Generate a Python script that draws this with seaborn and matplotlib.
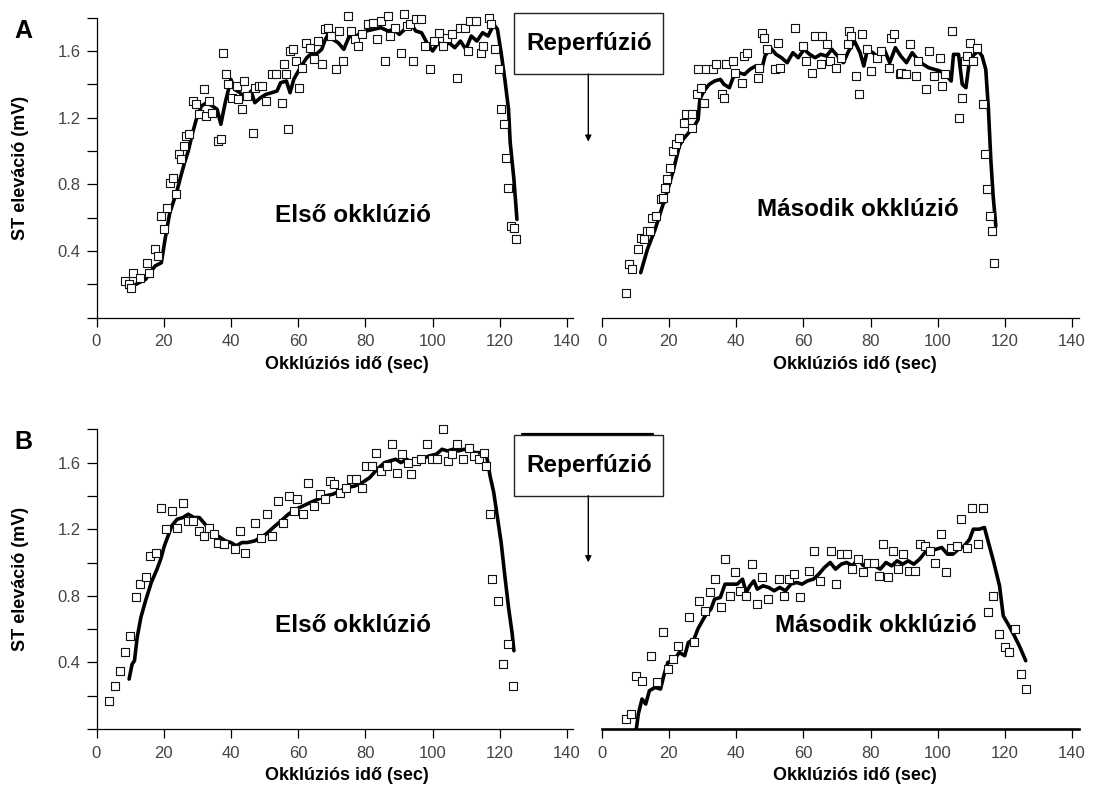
import matplotlib
matplotlib.use("Agg")
import matplotlib.pyplot as plt
from matplotlib.patches import Rectangle, FancyArrowPatch
from matplotlib.lines import Line2D
from matplotlib.ticker import FixedLocator, NullFormatter
import seaborn as sns

sns.set_theme(style="ticks")
plt.rcParams["font.family"] = ["Liberation Sans", "DejaVu Sans"]
plt.rcParams["text.color"] = "black"
plt.rcParams["axes.labelcolor"] = "black"

# ---------------- data: ST elevation (mV) vs occlusion time (s) ----------------
# A, first occlusion: smoothed curve
a1_curve_t = [11.7, 14.6, 17.4, 19.3, 20.4, 21.8, 23.8, 25.1, 26.2, 27.3,
              28.6, 29.7, 31.2, 32.8, 34.5, 35.9, 37.0, 38.3, 40.0, 41.1,
              42.7, 44.4, 46.0, 47.1, 48.8, 50.4, 52.1, 53.7, 54.8, 56.5,
              57.6, 58.7, 59.8, 60.9, 62.6, 64.2, 65.3, 67.0, 68.1, 69.2,
              70.3, 71.9, 73.6, 75.2, 76.9, 78.5, 80.2, 82.4, 84.6, 86.8,
              88.4, 90.1, 91.7, 93.4, 95.0, 96.7, 98.3, 100.0, 101.7, 103.3,
              104.9, 106.6, 108.3, 109.9, 111.5, 113.2, 114.9, 116.5, 118.2, 119.3,
              120.4, 121.5, 122.6, 123.1, 124.2, 125.1]
a1_curve_st = [0.20, 0.23, 0.31, 0.33, 0.47, 0.63, 0.75, 0.85, 0.93, 1.00,
               1.11, 1.19, 1.27, 1.29, 1.27, 1.25, 1.16, 1.29, 1.43, 1.37,
               1.35, 1.31, 1.36, 1.29, 1.32, 1.34, 1.35, 1.36, 1.41, 1.42,
               1.35, 1.43, 1.47, 1.51, 1.56, 1.59, 1.58, 1.61, 1.67, 1.71,
               1.67, 1.65, 1.61, 1.69, 1.68, 1.71, 1.72, 1.73, 1.74, 1.72,
               1.73, 1.70, 1.73, 1.77, 1.72, 1.71, 1.65, 1.60, 1.65, 1.63,
               1.65, 1.62, 1.66, 1.61, 1.69, 1.66, 1.71, 1.69, 1.76, 1.73,
               1.59, 1.43, 1.25, 1.05, 0.83, 0.59]
# A, first occlusion: single beats
a1_beat_t = [8.6, 9.7, 10.2, 11.0, 12.8, 15.0, 15.7, 17.4, 18.2, 19.3,
             20.2, 20.9, 21.8, 22.9, 23.6, 24.4, 25.1, 26.0, 26.6, 27.6,
             28.6, 29.5, 30.6, 31.9, 32.5, 33.4, 34.5, 36.2, 37.0, 37.6,
             38.4, 39.2, 40.4, 41.8, 42.2, 43.3, 43.9, 44.8, 46.6, 47.2,
             48.3, 49.2, 50.5, 52.1, 53.3, 55.1, 55.8, 56.5, 57.1, 57.6,
             58.5, 59.3, 60.4, 61.2, 62.4, 63.4, 64.8, 65.9, 67.0, 67.9,
             69.0, 69.8, 71.2, 72.3, 73.4, 74.9, 75.6, 76.9, 77.8, 79.1,
             80.8, 82.2, 83.5, 84.6, 85.7, 86.6, 87.4, 88.8, 90.7, 91.4,
             92.3, 93.4, 94.3, 95.0, 96.7, 97.6, 99.2, 100.5, 102.0, 103.1,
             104.4, 105.7, 107.4, 108.3, 109.7, 110.5, 111.0, 112.9, 114.3, 115.0,
             116.8, 117.3, 118.7, 119.8, 120.4, 121.2, 121.8, 122.4, 123.4, 124.1,
             124.8]
a1_beat_st = [0.22, 0.20, 0.18, 0.27, 0.24, 0.33, 0.27, 0.41, 0.37, 0.61,
              0.53, 0.66, 0.81, 0.84, 0.74, 0.98, 0.95, 1.03, 1.09, 1.10,
              1.30, 1.28, 1.22, 1.37, 1.21, 1.30, 1.23, 1.06, 1.07, 1.59,
              1.46, 1.40, 1.32, 1.39, 1.31, 1.25, 1.42, 1.33, 1.11, 1.38,
              1.39, 1.39, 1.30, 1.46, 1.46, 1.29, 1.52, 1.46, 1.13, 1.60,
              1.61, 1.54, 1.38, 1.50, 1.65, 1.62, 1.55, 1.66, 1.52, 1.73,
              1.74, 1.69, 1.49, 1.72, 1.54, 1.81, 1.72, 1.67, 1.63, 1.70,
              1.76, 1.77, 1.67, 1.78, 1.54, 1.81, 1.69, 1.74, 1.59, 1.82,
              1.75, 1.76, 1.54, 1.79, 1.79, 1.63, 1.49, 1.66, 1.71, 1.63,
              1.68, 1.70, 1.44, 1.74, 1.74, 1.60, 1.78, 1.78, 1.59, 1.63,
              1.80, 1.76, 1.61, 1.49, 1.25, 1.16, 0.96, 0.78, 0.55, 0.54,
              0.47]

# A, second occlusion
a2_curve_t = [11.6, 13.6, 15.9, 18.1, 19.7, 21.4, 23.1, 24.2, 25.9, 27.6,
              28.7, 29.2, 30.4, 32.0, 33.6, 35.3, 36.4, 38.0, 39.1, 40.8,
              42.5, 44.1, 45.8, 47.5, 48.6, 50.2, 51.9, 53.5, 55.2, 56.9,
              58.5, 60.2, 61.9, 63.5, 65.2, 66.9, 68.5, 70.2, 71.9, 73.5,
              75.2, 76.9, 78.0, 79.1, 80.7, 82.4, 84.1, 85.7, 87.4, 89.0,
              90.7, 92.4, 94.0, 95.7, 97.3, 99.0, 100.7, 102.3, 104.0, 104.7,
              106.2, 107.3, 108.4, 109.5, 110.9, 112.1, 113.2, 114.3, 115.1, 115.8,
              116.5, 117.3]
a2_curve_st = [0.27, 0.41, 0.53, 0.67, 0.77, 0.89, 1.03, 1.07, 1.11, 1.15,
               1.19, 1.31, 1.36, 1.40, 1.42, 1.43, 1.40, 1.38, 1.44, 1.47,
               1.46, 1.49, 1.51, 1.48, 1.57, 1.62, 1.58, 1.56, 1.53, 1.59,
               1.56, 1.61, 1.58, 1.56, 1.58, 1.57, 1.61, 1.57, 1.53, 1.60,
               1.66, 1.59, 1.51, 1.61, 1.59, 1.56, 1.61, 1.53, 1.62, 1.57,
               1.53, 1.59, 1.55, 1.52, 1.50, 1.49, 1.48, 1.46, 1.42, 1.58,
               1.58, 1.40, 1.38, 1.55, 1.58, 1.60, 1.57, 1.49, 1.25, 0.95,
               0.73, 0.55]
a2_beat_t = [7.2, 8.1, 9.0, 10.9, 11.6, 12.5, 13.4, 14.5, 15.1, 16.2,
             17.5, 18.1, 18.7, 19.5, 20.3, 21.1, 22.2, 23.1, 24.5, 25.1,
             27.0, 27.0, 28.4, 28.8, 29.7, 30.3, 31.0, 33.0, 34.1, 35.7,
             36.3, 36.9, 39.1, 39.7, 41.9, 42.3, 43.2, 46.4, 46.9, 47.8,
             48.3, 49.1, 51.5, 52.4, 53.0, 57.6, 60.0, 60.8, 62.6, 63.5,
             65.2, 65.7, 67.2, 68.0, 69.6, 71.1, 73.2, 73.5, 74.3, 75.7,
             76.5, 77.6, 79.1, 80.2, 81.9, 83.0, 85.5, 86.0, 86.9, 88.8,
             89.1, 90.7, 91.8, 93.5, 94.0, 96.5, 97.3, 98.8, 100.7, 101.2,
             102.3, 104.3, 106.2, 107.3, 108.1, 108.6, 109.7, 110.6, 111.7, 113.4,
             114.2, 114.8, 115.6, 116.3, 116.9]
a2_beat_st = [0.15, 0.32, 0.29, 0.41, 0.48, 0.47, 0.52, 0.52, 0.60, 0.61,
              0.71, 0.72, 0.78, 0.83, 0.90, 1.00, 1.04, 1.08, 1.17, 1.22,
              1.22, 1.14, 1.34, 1.49, 1.38, 1.29, 1.49, 1.49, 1.52, 1.34,
              1.32, 1.52, 1.54, 1.47, 1.41, 1.57, 1.59, 1.44, 1.50, 1.71,
              1.68, 1.61, 1.49, 1.65, 1.50, 1.74, 1.63, 1.54, 1.47, 1.69,
              1.52, 1.69, 1.64, 1.54, 1.50, 1.56, 1.64, 1.72, 1.69, 1.45,
              1.34, 1.70, 1.61, 1.48, 1.56, 1.60, 1.50, 1.68, 1.70, 1.46,
              1.47, 1.46, 1.64, 1.45, 1.54, 1.37, 1.60, 1.45, 1.56, 1.39,
              1.46, 1.72, 1.20, 1.32, 1.54, 1.57, 1.65, 1.54, 1.62, 1.28,
              0.98, 0.77, 0.61, 0.52, 0.33]

# B, first occlusion
b1_curve_t = [9.7, 10.6, 11.3, 12.1, 13.2, 14.6, 16.3, 18.0, 19.1, 20.2,
              21.3, 22.4, 24.0, 25.7, 27.3, 29.0, 30.6, 32.3, 33.9, 36.1,
              38.3, 40.0, 41.6, 43.3, 44.9, 47.1, 48.8, 50.4, 52.6, 54.9,
              57.1, 59.3, 61.5, 63.6, 65.9, 68.1, 70.3, 72.5, 74.7, 76.9,
              79.1, 81.3, 83.5, 85.7, 87.3, 89.0, 90.6, 92.3, 94.5, 96.7,
              98.9, 101.1, 102.8, 104.4, 106.1, 107.7, 109.4, 111.0, 112.7, 114.3,
              116.0, 117.1, 118.2, 119.3, 120.4, 121.5, 122.6, 123.7, 124.2]
b1_curve_st = [0.30, 0.39, 0.41, 0.55, 0.67, 0.77, 0.88, 0.96, 1.02, 1.10,
               1.16, 1.22, 1.26, 1.27, 1.29, 1.27, 1.27, 1.23, 1.19, 1.16,
               1.13, 1.12, 1.10, 1.12, 1.12, 1.13, 1.15, 1.17, 1.21, 1.25,
               1.29, 1.32, 1.34, 1.36, 1.38, 1.40, 1.41, 1.43, 1.45, 1.46,
               1.48, 1.51, 1.56, 1.60, 1.61, 1.62, 1.60, 1.62, 1.59, 1.62,
               1.64, 1.65, 1.68, 1.67, 1.68, 1.67, 1.68, 1.67, 1.66, 1.66,
               1.65, 1.52, 1.42, 1.27, 1.12, 0.92, 0.73, 0.57, 0.47]
b1_beat_t = [3.7, 5.4, 7.0, 8.6, 10.1, 11.7, 13.0, 14.6, 16.0, 17.6,
             19.3, 20.8, 22.5, 24.1, 25.7, 27.1, 28.7, 30.4, 31.9, 33.6,
             35.0, 36.3, 37.9, 41.1, 42.7, 44.2, 47.3, 48.9, 50.7, 52.3,
             53.9, 55.6, 57.3, 58.7, 59.8, 61.5, 62.9, 64.8, 66.4, 68.1,
             69.4, 70.8, 72.5, 74.1, 75.6, 77.2, 78.9, 80.3, 82.0, 83.3,
             84.8, 86.5, 88.0, 89.5, 91.0, 92.7, 93.5, 95.0, 96.7, 98.2,
             99.8, 101.4, 103.0, 104.6, 105.8, 107.4, 109.0, 110.7, 112.2, 113.9,
             115.4, 115.9, 117.1, 117.6, 119.5, 120.9, 122.5, 123.9]
b1_beat_st = [0.17, 0.26, 0.35, 0.46, 0.56, 0.79, 0.87, 0.91, 1.04, 1.06,
              1.33, 1.20, 1.31, 1.21, 1.36, 1.25, 1.25, 1.19, 1.16, 1.21,
              1.17, 1.12, 1.11, 1.08, 1.19, 1.06, 1.24, 1.15, 1.29, 1.16,
              1.37, 1.24, 1.40, 1.31, 1.38, 1.29, 1.48, 1.34, 1.41, 1.38,
              1.49, 1.47, 1.42, 1.45, 1.50, 1.50, 1.45, 1.58, 1.58, 1.66,
              1.55, 1.58, 1.71, 1.54, 1.65, 1.60, 1.53, 1.61, 1.62, 1.71,
              1.62, 1.62, 1.80, 1.61, 1.65, 1.71, 1.62, 1.69, 1.64, 1.62,
              1.66, 1.58, 1.29, 0.90, 0.77, 0.39, 0.51, 0.26]

# B, second occlusion
b2_curve_t = [10.3, 10.9, 12.0, 13.1, 14.2, 15.9, 17.5, 18.6, 19.7, 21.4,
              23.1, 24.7, 25.8, 27.5, 28.6, 29.7, 30.8, 32.5, 33.6, 35.3,
              36.7, 38.6, 40.3, 41.9, 43.0, 44.1, 45.3, 46.3, 48.0, 49.7,
              51.3, 53.0, 54.7, 56.3, 58.0, 59.6, 61.3, 63.0, 64.6, 66.3,
              68.0, 69.6, 71.3, 72.9, 74.6, 76.3, 77.9, 79.6, 81.3, 82.9,
              84.6, 86.3, 87.9, 89.6, 91.2, 92.9, 94.6, 96.2, 97.9, 99.6,
              101.2, 102.9, 104.5, 106.2, 107.9, 109.5, 110.6, 112.3, 113.9, 115.1,
              116.7, 118.4, 119.5, 121.2, 122.8, 124.5, 126.2]
b2_curve_st = [0.00, 0.09, 0.18, 0.15, 0.23, 0.25, 0.24, 0.33, 0.40, 0.41,
               0.46, 0.44, 0.52, 0.54, 0.60, 0.64, 0.68, 0.72, 0.78, 0.79,
               0.87, 0.87, 0.87, 0.90, 0.82, 0.86, 0.89, 0.84, 0.86, 0.85,
               0.83, 0.85, 0.83, 0.87, 0.88, 0.87, 0.89, 0.90, 0.93, 0.97,
               1.00, 0.96, 0.99, 1.00, 0.98, 1.02, 0.98, 1.00, 0.98, 0.96,
               1.00, 0.98, 1.01, 0.99, 1.01, 0.99, 1.02, 1.06, 1.07, 1.08,
               1.09, 1.05, 1.05, 1.08, 1.10, 1.14, 1.20, 1.20, 1.21, 1.12,
               1.00, 0.86, 0.68, 0.62, 0.56, 0.49, 0.41]
b2_beat_t = [7.2, 8.8, 10.3, 11.9, 14.6, 16.4, 18.1, 19.7, 21.1, 22.7,
             26.0, 27.5, 29.1, 30.7, 32.3, 33.8, 35.5, 36.7, 38.2, 39.8,
             41.2, 43.0, 44.7, 46.2, 47.8, 49.4, 52.7, 54.2, 55.8, 57.2,
             59.1, 61.6, 63.2, 65.0, 68.2, 69.6, 71.2, 72.9, 74.4, 76.2,
             77.7, 79.4, 80.9, 82.5, 83.6, 85.2, 86.7, 88.3, 89.8, 91.4,
             93.1, 94.6, 96.2, 97.8, 99.3, 100.9, 102.6, 104.1, 105.7, 107.0,
             108.7, 110.2, 111.9, 113.4, 115.0, 116.6, 118.2, 119.9, 121.3, 123.1,
             124.7, 126.2]
b2_beat_st = [0.06, 0.09, 0.32, 0.29, 0.44, 0.28, 0.58, 0.36, 0.42, 0.50,
              0.67, 0.52, 0.77, 0.71, 0.82, 0.90, 0.73, 1.02, 0.80, 0.94,
              0.83, 0.80, 0.99, 0.75, 0.91, 0.78, 0.90, 0.80, 0.90, 0.93,
              0.79, 0.95, 1.07, 0.89, 1.07, 0.87, 1.05, 1.05, 0.96, 1.02,
              0.94, 1.00, 1.00, 0.92, 1.11, 0.91, 1.07, 0.96, 1.05, 0.95,
              0.95, 1.11, 1.10, 1.07, 1.00, 1.17, 0.94, 1.09, 1.10, 1.26,
              1.09, 1.33, 1.11, 1.33, 0.70, 0.80, 0.57, 0.49, 0.46, 0.60,
              0.33, 0.24]

# axis ticks and texts
x_ticks = [0, 20, 40, 60, 80, 100, 120, 140]
y_major = [0.4, 0.8, 1.2, 1.6]
y_minor = [0.0, 0.2, 0.6, 1.0, 1.4, 1.8]
x_title = "Okklúziós idő (sec)"
y_title = "ST eleváció (mV)"
first_label = "Első okklúzió"
second_label = "Második okklúzió"
reperf_label = "Reperfúzió"

# ---------------- figure layout (pixel based) ----------------
W, H = 1094, 787
fig = plt.figure(figsize=(W / 100, H / 100), dpi=100)
XMAX = 141.9


def fx(x):
    return x / W


def fy(y):
    return 1 - y / H


def add_panel(left, top, right, bottom):
    return fig.add_axes([fx(left), fy(bottom), (right - left) / W, (bottom - top) / H])


TICK_COLOR = "#444444"


def style_panel(ax, with_y, xlab_x, thick_base=False):
    ax.set_xlim(0, XMAX)
    ax.set_ylim(0, 1.8)
    ax.set_facecolor("white")
    for side in ("top", "right"):
        ax.spines[side].set_visible(False)
    ax.spines["bottom"].set_color("black")
    ax.spines["bottom"].set_linewidth(1.9 if thick_base else 0.9)
    ax.xaxis.set_major_locator(FixedLocator(x_ticks))
    ax.set_xticklabels([str(t) for t in x_ticks])
    ax.tick_params(axis="x", direction="out", length=6.5, width=0.9, color="black",
                   labelsize=12, labelcolor=TICK_COLOR, pad=5.5, bottom=True)
    if with_y:
        ax.spines["left"].set_color("black")
        ax.spines["left"].set_linewidth(0.9)
        ax.yaxis.set_major_locator(FixedLocator(y_major))
        ax.yaxis.set_minor_locator(FixedLocator(y_minor))
        ax.set_yticklabels([f"{v:.1f}" for v in y_major])
        ax.yaxis.set_minor_formatter(NullFormatter())
        ax.tick_params(axis="y", which="both", direction="out", length=7, width=0.9,
                       color="black", labelsize=12, labelcolor=TICK_COLOR, pad=4.5, left=True)
        ax.set_ylabel(y_title, fontsize=13, fontweight="bold", color="black")
        ax.yaxis.set_label_coords(-0.142, 0.5)
    else:
        ax.spines["left"].set_visible(False)
        ax.tick_params(axis="y", which="both", left=False, labelleft=False)
        ax.set_ylabel("")
    ax.set_xlabel(x_title, fontsize=13, fontweight="bold", color="black")
    ax.xaxis.set_label_coords(xlab_x, -0.128)
    ax.grid(False)


def draw_series(ax, ct, cv, bt, bv):
    sns.lineplot(x=ct, y=cv, ax=ax, color="black", linewidth=2.6, sort=False,
                 estimator=None, zorder=2)
    sns.scatterplot(x=bt, y=bv, ax=ax, marker="s", s=28, color="white",
                    edgecolor="#111111", linewidth=0.8, zorder=3, clip_on=False)


panels = [
    (add_panel(96.5, 17.7, 573.4, 317.7), True, 0.526, False,
     a1_curve_t, a1_curve_st, a1_beat_t, a1_beat_st, first_label, 76.3, 0.575),
    (add_panel(601.7, 17.7, 1078.5, 317.7), False, 0.532, False,
     a2_curve_t, a2_curve_st, a2_beat_t, a2_beat_st, second_label, 76.2, 0.612),
    (add_panel(96.5, 429.3, 573.4, 729.0), True, 0.526, False,
     b1_curve_t, b1_curve_st, b1_beat_t, b1_beat_st, first_label, 76.3, 0.582),
    (add_panel(601.7, 429.3, 1078.5, 729.0), False, 0.532, True,
     b2_curve_t, b2_curve_st, b2_beat_t, b2_beat_st, second_label, 81.5, 0.584),
]

for ax, with_y, xlab_x, thick, ct, cv, bt, bv, lab, lx, ly in panels:
    draw_series(ax, ct, cv, bt, bv)
    style_panel(ax, with_y, xlab_x, thick)
    ax.text(lx, ly, lab, fontsize=17.5, fontweight="bold", ha="center",
            va="baseline", color="black", zorder=4)

# panel letters
fig.text(fx(23), fy(31), "A", fontsize=18, fontweight="bold", ha="center",
         va="center", color="black")
fig.text(fx(23), fy(441.7), "B", fontsize=18, fontweight="bold", ha="center",
         va="center", color="black")


# reperfusion boxes with downward arrows between the two occlusions
def reperfusion_box(top, bottom, tip, cap_line=False):
    left, right = 514.3, 663.3
    fig.add_artist(Rectangle((fx(left), fy(bottom)), (right - left) / W, (bottom - top) / H,
                             transform=fig.transFigure, facecolor="white",
                             edgecolor="#222222", linewidth=1.0))
    if cap_line:
        fig.add_artist(Line2D([fx(521.7), fx(653.3)], [fy(top - 1.5), fy(top - 1.5)],
                              transform=fig.transFigure, color="black", linewidth=1.6))
    fig.text(fx((left + right) / 2), fy((top + bottom) / 2), reperf_label,
             fontsize=17.5, fontweight="bold", ha="center", va="center", color="black")
    xm = 588.3
    fig.add_artist(FancyArrowPatch((fx(xm), fy(bottom)), (fx(xm), fy(tip)),
                                   transform=fig.transFigure, arrowstyle="-|>",
                                   mutation_scale=9, linewidth=1.0, color="black",
                                   shrinkA=0, shrinkB=0))


reperfusion_box(13.3, 74.0, 141.7)
reperfusion_box(435.0, 495.7, 562.3, cap_line=True)

fig.savefig("out.png", dpi=100, facecolor="white")
